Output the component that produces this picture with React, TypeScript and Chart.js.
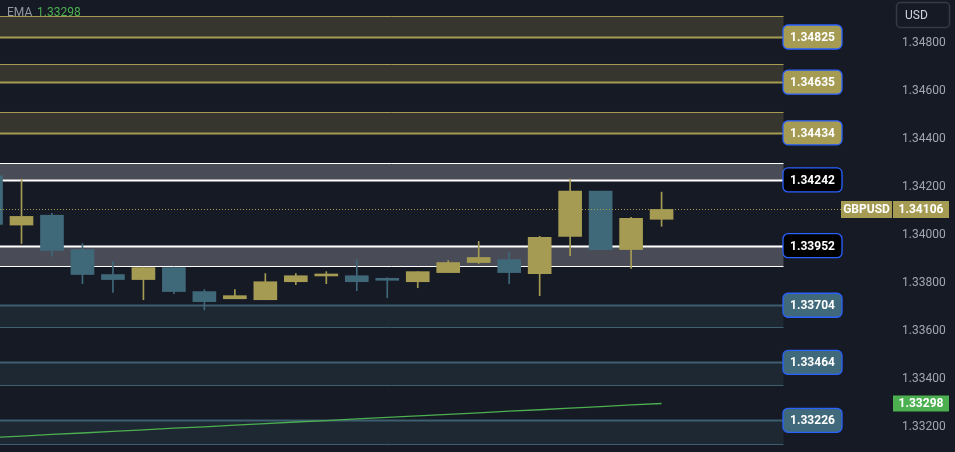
import React, { useEffect, useRef } from "react";
import { Chart, registerables } from "chart.js";

Chart.register(...registerables);

// ---- data ----
const candleIndex = [0, 1, 2, 3, 4, 5, 6, 7, 8, 9, 10, 11, 12, 13, 14, 15, 16, 17, 18, 19, 20, 21, 22];
const opens = [1.34246, 1.34041, 1.34082, 1.33939, 1.33835, 1.33814, 1.33864, 1.33764, 1.33734, 1.3373, 1.33805, 1.33829, 1.3383, 1.33814, 1.33805, 1.33843, 1.33885, 1.33897, 1.33839, 1.33994, 1.34182, 1.33939, 1.34065];
const highs = [1.3425, 1.34232, 1.3409, 1.33964, 1.33889, 1.33866, 1.33866, 1.33772, 1.33772, 1.33839, 1.33839, 1.33847, 1.33897, 1.33822, 1.33847, 1.33893, 1.33973, 1.33927, 1.33994, 1.34232, 1.34182, 1.34073, 1.34178];
const lows = [1.3404, 1.33964, 1.33911, 1.33797, 1.3376, 1.3373, 1.33755, 1.33688, 1.33734, 1.3373, 1.33793, 1.33797, 1.33768, 1.33738, 1.3378, 1.33843, 1.33881, 1.33797, 1.33747, 1.33914, 1.33939, 1.3386, 1.34036];
const closes = [1.34044, 1.34077, 1.33935, 1.33835, 1.33814, 1.33864, 1.33764, 1.33722, 1.33747, 1.33805, 1.3383, 1.33831, 1.33805, 1.33811, 1.33847, 1.33885, 1.33906, 1.33843, 1.3399, 1.34182, 1.33939, 1.34069, 1.34106];
const emaValues = [1.33156, 1.33162, 1.33169, 1.33175, 1.33182, 1.33188, 1.33195, 1.33201, 1.33208, 1.33214, 1.33221, 1.33227, 1.33234, 1.3324, 1.33246, 1.33253, 1.33259, 1.33266, 1.33272, 1.33279, 1.33285, 1.33292, 1.33298];

const tickValues = [1.332, 1.334, 1.336, 1.338, 1.34, 1.342, 1.344, 1.346, 1.348];

// zones: top, bottom, labelled edge, label text, kind
const zoneTops = [1.34912, 1.34712, 1.34512, 1.34299, 1.33955, 1.33707, 1.33469, 1.33228];
const zoneBottoms = [1.34824, 1.34636, 1.34425, 1.34229, 1.33869, 1.33615, 1.33374, 1.33128];
const zoneLabelEdge = ["bottom", "bottom", "bottom", "bottom", "top", "top", "top", "top"];
const zoneLabels = ["1.34825", "1.34635", "1.34434", "1.34242", "1.33952", "1.33704", "1.33464", "1.33226"];
const zoneKinds = ["res", "res", "res", "near", "near", "sup", "sup", "sup"];
const zoneEndIndex = 26;

const lastPrice = 1.34106;
const symbolName = "GBPUSD";
const currencyName = "USD";
const emaName = "EMA";
const emaLastLabel = "1.33298";
const lastPriceLabel = "1.34106";

// ---- styles ----
const BG = "#161a25";
const YEL = "#a59b53";
const BLU = "#3f6879";
const GREEN = "#4caf50";
const zoneStyle: Record<string, { fill: string; line: string; box: string }> = {
  res: { fill: "#36362f", line: "#a59b53", box: "#a59b53" },
  near: { fill: "#494c56", line: "#ffffff", box: "#000000" },
  sup: { fill: "#1e2833", line: "#3e5f70", box: "#406a7b" },
};

const FONT = "Roboto, 'Liberation Sans', Arial, sans-serif";

const X_MIN = 0.2946;
const X_MAX = 0.2946 + 893 / 30.48;

const overlayPlugin = {
  id: "overlay",
  beforeDatasetsDraw(chart: any) {
    const { ctx, chartArea, scales } = chart;
    const x = scales.x;
    const y = scales.y;
    const xl = chartArea.left;
    const xr = x.getPixelForValue(zoneEndIndex);
    ctx.save();
    for (let i = 0; i < zoneTops.length; i++) {
      const st = zoneStyle[zoneKinds[i]];
      const yt = y.getPixelForValue(zoneTops[i]);
      const yb = y.getPixelForValue(zoneBottoms[i]);
      ctx.fillStyle = st.fill;
      ctx.fillRect(xl, yt, xr - xl, yb - yt);
      ctx.strokeStyle = st.line;
      ctx.lineWidth = zoneLabelEdge[i] === "top" ? 2 : 1;
      ctx.beginPath();
      ctx.moveTo(xl, Math.round(yt) + 0.5);
      ctx.lineTo(xr, Math.round(yt) + 0.5);
      ctx.stroke();
      ctx.lineWidth = zoneLabelEdge[i] === "bottom" ? 2 : 1;
      ctx.beginPath();
      ctx.moveTo(xl, Math.round(yb) + 0.5);
      ctx.lineTo(xr, Math.round(yb) + 0.5);
      ctx.stroke();
    }
    ctx.restore();
  },
  afterDatasetsDraw(chart: any) {
    const { ctx, chartArea, scales } = chart;
    const y = scales.y;
    const x = scales.x;
    ctx.save();
    // dotted last-price line
    const yp = Math.round(y.getPixelForValue(lastPrice)) + 0.5;
    ctx.strokeStyle = YEL;
    ctx.lineWidth = 1;
    ctx.setLineDash([1, 2]);
    ctx.beginPath();
    ctx.moveTo(chartArea.left, yp);
    ctx.lineTo(841, yp);
    ctx.stroke();
    ctx.setLineDash([]);

    // zone labels
    const bx = x.getPixelForValue(zoneEndIndex) - 1;
    ctx.font = `bold 12px ${FONT}`;
    ctx.textAlign = "center";
    ctx.textBaseline = "middle";
    for (let i = 0; i < zoneTops.length; i++) {
      const st = zoneStyle[zoneKinds[i]];
      const v = zoneLabelEdge[i] === "top" ? zoneTops[i] : zoneBottoms[i];
      const cy = y.getPixelForValue(v);
      ctx.beginPath();
      ctx.roundRect(bx + 0.5, cy - 12, 59, 24, 5);
      ctx.fillStyle = st.box;
      ctx.fill();
      ctx.strokeStyle = "#2962ff";
      ctx.lineWidth = 1.3;
      ctx.stroke();
      ctx.fillStyle = "#ffffff";
      ctx.fillText(zoneLabels[i], bx + 30, cy + 1);
    }

    // last price labels
    const right = chartArea.right;
    ctx.fillStyle = YEL;
    ctx.fillRect(841, yp - 8.5, 51, 17);
    ctx.fillRect(right, yp - 8.5, 56, 17);
    ctx.fillStyle = "#ffffff";
    ctx.font = `bold 12px ${FONT}`;
    ctx.fillText(symbolName, 866.5, yp + 0.5);
    ctx.fillText(lastPriceLabel, right + 28, yp + 0.5);

    // EMA price label
    const ye = y.getPixelForValue(emaValues[emaValues.length - 1]);
    ctx.fillStyle = GREEN;
    ctx.fillRect(right, ye - 8, 56, 16);
    ctx.fillStyle = "#ffffff";
    ctx.fillText(emaLastLabel, right + 28, ye + 0.5);

    // USD box
    ctx.beginPath();
    ctx.roundRect(896.5, 2.5, 53, 25, 4);
    ctx.fillStyle = BG;
    ctx.fill();
    ctx.strokeStyle = "#363a45";
    ctx.lineWidth = 1.5;
    ctx.stroke();
    ctx.fillStyle = "#d1d4dc";
    ctx.font = `12px ${FONT}`;
    ctx.textAlign = "left";
    ctx.fillText(currencyName, 905, 15.5);

    // legend
    ctx.fillStyle = "#9598a1";
    ctx.fillText(emaName, 7, 13);
    ctx.fillStyle = GREEN;
    ctx.fillText(emaLastLabel, 37, 13);
    ctx.restore();
  },
};

export default function App() {
  const ref = useRef<HTMLCanvasElement | null>(null);
  useEffect(() => {
    if (!ref.current) return;
    const colorOf = (i: number) => (closes[i] >= opens[i] ? YEL : BLU);
    const chart = new Chart(ref.current, {
      type: "bar",
      data: {
        datasets: [
          {
            label: "body",
            data: candleIndex.map((k, i) => ({ x: k, y: [opens[i], closes[i]] })) as any,
            backgroundColor: candleIndex.map((_, i) => colorOf(i)),
            barThickness: 23,
            minBarLength: 2,
            grouped: false,
            borderWidth: 0,
          } as any,
          {
            label: "wick",
            data: candleIndex.map((k, i) => ({ x: k, y: [lows[i], highs[i]] })) as any,
            backgroundColor: candleIndex.map((_, i) => colorOf(i)),
            barThickness: 1,
            grouped: false,
            borderWidth: 0,
          } as any,
          {
            type: "line",
            label: "EMA",
            data: candleIndex.map((k, i) => ({ x: k, y: emaValues[i] })) as any,
            borderColor: GREEN,
            borderWidth: 1.3,
            pointRadius: 0,
            tension: 0,
          } as any,
        ],
      },
      options: {
        animation: false,
        responsive: false,
        devicePixelRatio: 1,
        layout: { padding: 0 },
        plugins: { legend: { display: false }, tooltip: { enabled: false } },
        scales: {
          x: {
            type: "linear",
            min: X_MIN,
            max: X_MAX,
            offset: false,
            display: false,
          },
          y: {
            type: "linear",
            position: "right",
            min: 1.34 - 217.1 / 24015,
            max: 1.34 + 234.9 / 24015,
            grid: { display: false, drawTicks: false },
            border: { display: false },
            afterBuildTicks: (scale: any) => {
              scale.ticks = tickValues.map((v) => ({ value: v }));
            },
            afterFit: (scale: any) => {
              scale.width = 62;
              scale.paddingTop = 0;
              scale.paddingBottom = 0;
            },
            ticks: {
              padding: 9,
              color: "#a3a6af",
              font: { family: FONT, size: 12 },
              callback: (v: any) => Number(v).toFixed(5),
            },
          },
        },
      },
      plugins: [overlayPlugin],
    });
    return () => chart.destroy();
  }, []);

  return (
    <div style={{ position: "fixed", left: 0, top: 0, width: 955, height: 452, background: BG }}>
      <canvas ref={ref} width={955} height={452} style={{ display: "block", width: 955, height: 452 }} />
    </div>
  );
}
